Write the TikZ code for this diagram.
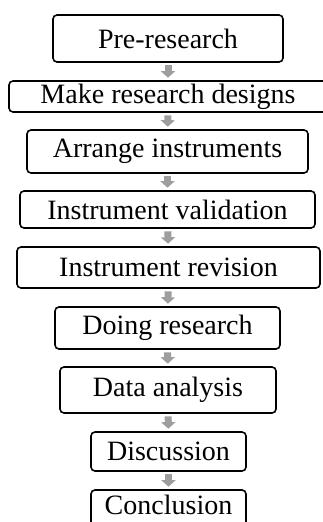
\documentclass[tikz,border=0pt]{standalone}
\usepackage{fontspec}
\setmainfont{Liberation Serif}
\usetikzlibrary{arrows.meta}
\definecolor{stepgrey}{HTML}{9E9E9E}

\begin{document}
\begin{tikzpicture}[x=1pt, y=1pt, font=\fontsize{28}{33}\selectfont,
      blk/.style={draw=black, line width=1.6pt, fill=white, rounded corners=4pt, inner sep=0pt},
      flow/.style={draw=stepgrey, line width=7pt, shorten <=2.5pt, shorten >=2.5pt,
                   -{Triangle[width=14pt, length=6.5pt]}}]
      \useasboundingbox (0,0) rectangle (323,-522);
      \clip (0,0) rectangle (323,-522);
      % research steps
      \node[blk, minimum width=230pt, minimum height=47pt] (pre) at (168,-38.5) {Pre-research};
      \node[blk, minimum width=318pt, minimum height=31pt] (design) at (168,-96.5) {Make research designs};
      \node[blk, minimum width=281pt, minimum height=43pt] (arrange) at (167.5,-151.5) {Arrange instruments};
      \node[blk, minimum width=295pt, minimum height=37pt] (valid) at (167.5,-209.5) {Instrument validation};
      \node[blk, minimum width=303pt, minimum height=41pt] (revise) at (168.5,-267.5) {Instrument revision};
      \node[blk, minimum width=225pt, minimum height=42pt] (doing) at (167.5,-328) {Doing research};
      \node[blk, minimum width=216pt, minimum height=46pt] (data) at (168,-390) {Data analysis};
      \node[blk, minimum width=155pt, minimum height=39pt] (discuss) at (168.5,-451.5) {Discussion};
      \node[blk, minimum width=155pt, minimum height=40pt, text depth=10pt] (concl) at (168.5,-510) {Conclusion};

      \draw[flow] (pre)--(design);
      \draw[flow] (design)--(arrange);
      \draw[flow] (arrange)--(valid);
      \draw[flow] (valid)--(revise);
      \draw[flow] (revise)--(doing);
      \draw[flow] (doing)--(data);
      \draw[flow] (data)--(discuss);
      \draw[flow] (discuss)--(concl);
    \end{tikzpicture}
\end{document}
